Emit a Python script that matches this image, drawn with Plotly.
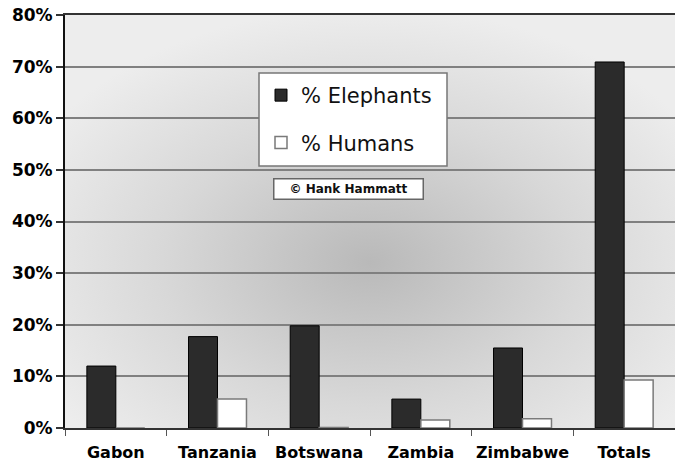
import base64
import plotly.graph_objects as go

categories = ["Gabon", "Tanzania", "Botswana", "Zambia", "Zimbabwe", "Totals"]
elephants = [12.0, 17.7, 19.8, 5.6, 15.5, 70.9]
humans = [0.0, 5.6, 0.1, 1.55, 1.8, 9.3]
y_ticks = [0, 10, 20, 30, 40, 50, 60, 70, 80]
y_tick_labels = ["0%", "10%", "20%", "30%", "40%", "50%", "60%", "70%", "80%"]

FONT = "DejaVu Sans, Arial, sans-serif"

svg = (
    '<svg xmlns="http://www.w3.org/2000/svg" width="600" height="400" '
    'preserveAspectRatio="none" viewBox="0 0 600 400">'
    '<defs><radialGradient id="g" cx="0.5" cy="0.6" r="0.62">'
    '<stop offset="0" stop-color="#b9b9b9"/>'
    '<stop offset="0.55" stop-color="#d8d8d8"/>'
    '<stop offset="1" stop-color="#ededed"/>'
    '</radialGradient></defs>'
    '<rect width="600" height="400" fill="url(#g)"/></svg>'
)
bg_src = "data:image/svg+xml;base64," + base64.b64encode(svg.encode()).decode()

fig = go.Figure()
fig.add_trace(go.Bar(
    name="% Elephants", x=categories, y=elephants,
    marker=dict(color="#2b2b2b", line=dict(color="#000000", width=1)),
    legendgroup="e",
))
fig.add_trace(go.Bar(
    name="% Humans", x=categories, y=humans,
    marker=dict(color="#ffffff", line=dict(color="#7a7a7a", width=1.5)),
    legendgroup="h",
))

W, H = 675, 466
L, R, T, B = 65, 0, 15, 38
pw, ph = W - L - R, H - T - B


def px(x):
    return (x - L) / pw


def py(y):
    return (H - B - y) / ph


fig.update_layout(
    width=W, height=H,
    margin=dict(l=L, r=R, t=T, b=B, autoexpand=False),
    paper_bgcolor="#ffffff",
    plot_bgcolor="#eeeeee",
    barmode="group",
    bargap=0.43,
    bargroupgap=0,
    font=dict(family=FONT, color="#000000"),
    showlegend=True,
    legend=dict(
        x=px(261), y=py(75), xanchor="left", yanchor="top",
        bgcolor="rgba(0,0,0,0)", borderwidth=0,
        font=dict(family=FONT, size=21, color="#111111"),
        tracegroupgap=17, traceorder="grouped",
    ),
    images=[dict(
        source=bg_src, xref="paper", yref="paper", x=0, y=1,
        sizex=1, sizey=1, sizing="stretch", layer="below",
        xanchor="left", yanchor="top",
    )],
    shapes=[dict(
        type="rect", xref="paper", yref="paper",
        x0=px(259), x1=px(447), y0=py(166), y1=py(73),
        fillcolor="#ffffff", line=dict(color="#777777", width=1.5),
        layer="above",
    )],
    annotations=[dict(
        text="<b>© Hank Hammatt</b>", xref="paper", yref="paper",
        x=px(348), y=py(189), xanchor="center", yanchor="middle",
        showarrow=False, font=dict(family=FONT, size=12, color="#111111"),
        bgcolor="#ffffff", bordercolor="#666666", borderwidth=1.5,
        width=146, height=17, borderpad=1,
    )],
)

fig.update_xaxes(
    type="category",
    showgrid=False,
    showline=True, linecolor="#333333", linewidth=2, mirror=True,
    ticks="outside", tickson="boundaries", ticklen=6,
    tickcolor="#555555", tickwidth=1,
    tickangle=0, automargin=False,
    tickfont=dict(family=FONT, size=16, color="#000000", weight="bold"),
    ticklabelstandoff=9,
)
fig.update_yaxes(
    range=[0, 80], tickmode="array", tickvals=y_ticks, ticktext=y_tick_labels,
    showgrid=True, gridcolor="#808080", gridwidth=2,
    zeroline=False, automargin=False,
    showline=True, linecolor="#111111", linewidth=2,
    ticks="outside", ticklen=7, tickcolor="#333333", tickwidth=1.5,
    tickfont=dict(family=FONT, size=17, color="#000000", weight="bold"),
)

fig.write_html(
    "out.html",
    config={"responsive": False, "displayModeBar": False},
    post_script="document.body.style.margin='0';document.body.style.overflow='hidden';",
)
